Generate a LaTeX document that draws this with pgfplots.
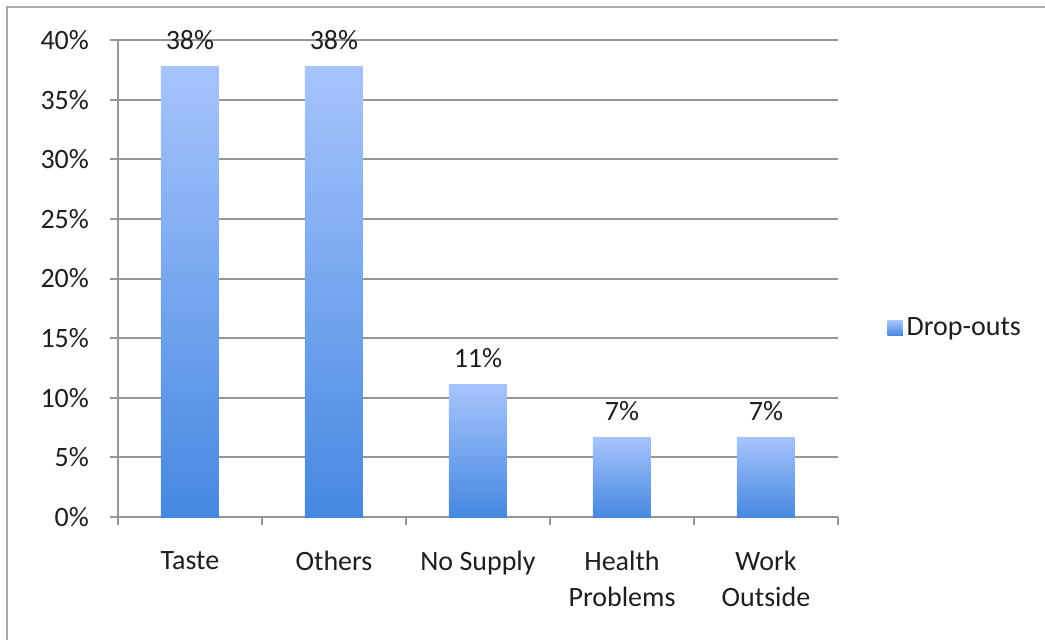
\documentclass[border=0pt]{standalone}
\usepackage{fontspec}
\setmainfont{Carlito}
\usepackage{pgfplots}
\pgfplotsset{compat=1.18}

\definecolor{barTop}{RGB}{166,196,252}
\definecolor{barBottom}{RGB}{70,136,224}
\definecolor{gridGray}{RGB}{150,150,150}
\definecolor{frameGray}{RGB}{170,170,170}
\definecolor{textDark}{RGB}{30,30,30}

% each bar is its own plot so that each gets its own light-to-dark shading
\pgfplotsset{dropbar/.style={ybar, bar width=29pt, bar shift=0pt, draw=none,
  top color=barTop, bottom color=barBottom}}

\begin{document}
\begin{tikzpicture}
% page area: 1045 x 639 units of 0.5pt
\useasboundingbox (0,0) rectangle (522.5pt,319.5pt);
\draw[frameGray, line width=1pt] (3.5pt,-10pt) -- (3.5pt,316pt) -- (540pt,316pt);

\begin{axis}[
  at={(59pt,61pt)}, anchor=south west,
  scale only axis,
  width=360pt, height=238.5pt,
  xmin=-0.5, xmax=4.5,
  ymin=0, ymax=40,
  enlarge x limits=false, enlarge y limits=false,
  axis lines*=left,
  axis line style={gridGray, line width=1pt},
  ymajorgrids,
  grid style={gridGray, line width=1pt},
  tick align=outside,
  major tick length=4pt,
  tick style={gridGray, line width=1pt},
  ytick={0,5,...,40},
  yticklabel={\pgfmathprintnumber{\tick}\%},
  /pgf/number format/assume math mode=true,
  xtick={-0.5,0.5,...,4.5},
  x tick label as interval,
  xticklabels={Taste,Others,No Supply,{Health\\Problems},{Work\\Outside}},
  xticklabel style={align=center, yshift=-9.5pt},
  yticklabel style={xshift=-7pt},
  tick label style={font=\fontsize{14}{18}\selectfont, text=textDark},
  nodes near coords={\pgfmathprintnumber[fixed,precision=0]{\pgfplotspointmeta}\%},
  nodes near coords style={font=\fontsize{14}{18}\selectfont, text=textDark, yshift=5pt},
  legend style={draw=none, fill=none, at={(1.06,0.396)}, anchor=west,
    font=\fontsize{14}{18}\selectfont, text=textDark},
  legend image code/.code={
    \fill[top color=barTop, bottom color=barBottom] (0pt,-3.75pt) rectangle (7.5pt,3.75pt);
  },
]
\addplot[dropbar] coordinates {(0,37.78)};
\addlegendentry{Drop-outs}
\addplot[dropbar, forget plot] coordinates {(1,37.78)};
\addplot[dropbar, forget plot] coordinates {(2,11.11)};
\addplot[dropbar, forget plot] coordinates {(3,6.67)};
\addplot[dropbar, forget plot] coordinates {(4,6.67)};
\end{axis}
\end{tikzpicture}
\end{document}
